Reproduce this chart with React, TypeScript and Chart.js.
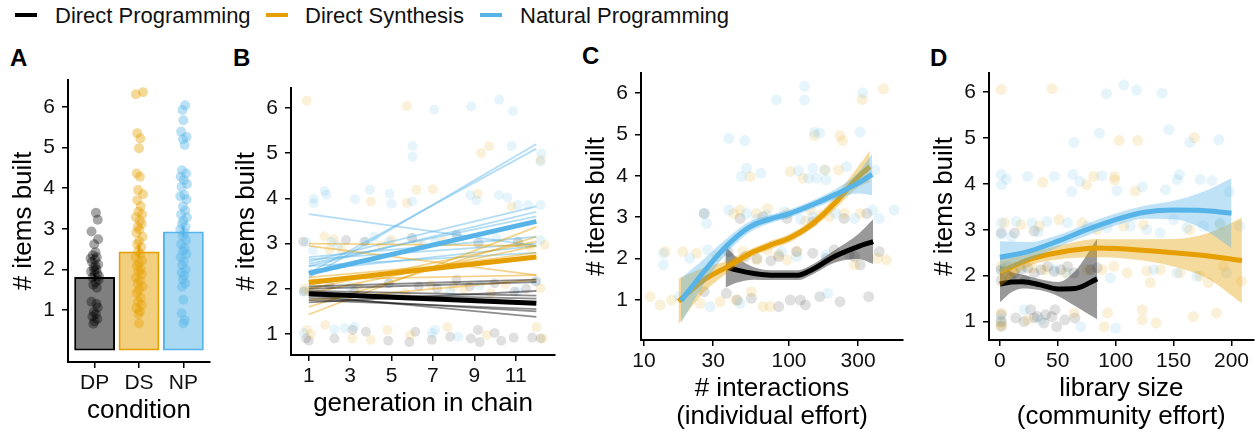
import React, { useEffect, useRef } from 'react';
import { Chart, registerables } from 'chart.js';

Chart.register(...registerables);

const FONT = '"Liberation Sans", Arial, Helvetica, sans-serif';
const TICK_COLOR = '#111111';
const BLACK = '#000000';
const ORANGE = '#E69F00';
const BLUE = '#56B4E9';

function rgba(hex: string, a: number) {
  const n = parseInt(hex.slice(1), 16);
  return `rgba(${(n >> 16) & 255},${(n >> 8) & 255},${n & 255},${a})`;
}

type Pt = [number, number];

// ---------------- legend / labels ----------------
const conditionNames = ['Direct Programming', 'Direct Synthesis', 'Natural Programming'];
const conditionCodes = ['DP', 'DS', 'NP'];
const conditionColors = [BLACK, ORANGE, BLUE];
const yTicks = [1, 2, 3, 4, 5, 6];
const Y_TITLE = '# items built';

// ---------------- panel A ----------------
const barMeans = [1.81, 2.44, 2.93];
const barLow = [1.71, 2.3, 2.81];
const barHigh = [1.91, 2.6, 3.06];
const aPointsDP: Pt[] = [[1.03,3.39],[1.07,3.22],[0.93,2.93],[1.08,2.74],[0.99,2.62],[1.02,2.42],[0.96,2.35],[1.05,2.30],[1.01,2.24],[0.94,2.18],[1.08,2.12],[0.98,2.05],[1.04,2.00],[0.92,1.95],[1.06,1.90],[1.00,1.86],[0.95,1.80],[1.09,1.74],[1.02,1.68],[0.97,1.62],[1.05,1.55],[0.93,1.20],[1.04,1.15],[1.07,1.06],[0.98,0.95],[1.03,0.90],[0.95,0.84],[1.06,0.78],[1.00,0.72],[0.97,0.66],[1.02,2.08],[0.99,1.97],[0.91,2.27],[1.10,1.83]];
const aPointsDS: Pt[] = [[1.93,6.31],[2.09,6.36],[1.96,5.35],[2.03,5.22],[2.0,4.98],[1.95,4.36],[2.02,4.28],[1.98,3.95],[2.09,3.85],[1.96,3.70],[2.04,3.55],[1.99,3.42],[2.07,3.35],[1.93,3.28],[2.02,3.20],[2.06,3.12],[1.97,3.05],[2.01,2.98],[1.94,2.90],[2.08,2.80],[2.0,2.70],[1.96,2.62],[2.05,2.55],[1.98,2.45],[2.03,2.38],[1.92,2.30],[2.07,2.22],[2.0,2.15],[1.95,2.08],[2.04,2.0],[1.99,1.95],[2.06,1.88],[1.93,1.80],[2.02,1.72],[1.97,1.65],[2.08,1.58],[2.0,1.50],[1.95,1.42],[2.04,1.30],[1.98,1.20],[2.06,1.12],[1.94,1.05],[2.02,0.97],[1.99,0.90],[2.0,0.67]];
const aPointsNP: Pt[] = [[3.04,6.04],[2.98,5.92],[3.0,5.67],[2.95,5.39],[3.07,5.26],[2.99,5.20],[3.03,5.06],[2.97,4.44],[3.06,4.36],[2.94,4.28],[3.01,4.20],[3.08,4.10],[2.96,4.03],[3.02,3.83],[2.93,3.80],[3.07,3.72],[2.99,3.55],[3.04,3.45],[2.95,3.35],[3.08,3.28],[3.0,3.20],[2.97,3.12],[3.05,3.05],[2.93,2.98],[3.02,2.90],[2.98,2.82],[3.06,2.72],[2.95,2.62],[3.03,2.52],[2.99,2.45],[3.07,2.38],[2.94,2.30],[3.01,2.20],[2.97,2.10],[3.05,2.00],[2.96,1.92],[3.02,1.85],[2.99,1.75],[3.04,1.65],[2.97,1.57],[3.0,1.25],[2.96,0.92],[3.03,0.75],[3.0,0.67]];

// ---------------- panel B ----------------
const bGenerationTicks = [1, 3, 5, 7, 9, 11];
const bLineEnds = [1, 12];
const bMeanDP = [1.89, 1.68];
const bMeanDS = [2.14, 2.70];
const bMeanNP = [2.34, 3.49];
const bChainsDP: Pt[] = [[2.05,2.2],[2.0,2.15],[1.85,1.38],[1.8,1.5],[1.75,1.55],[1.9,1.78],[1.95,1.85],[1.7,1.95]];
const bChainsDS: Pt[] = [[1.43,3.37],[1.6,3.15],[3.0,2.95],[2.95,2.3],[2.2,2.3],[2.1,2.8],[2.0,3.05],[1.75,2.2],[1.9,2.95],[2.25,2.7]];
const bChainsNP: Pt[] = [[3.65,2.95],[2.25,5.2],[2.35,5.1],[2.6,3.82],[2.5,3.7],[2.55,3.6],[2.7,3.15],[2.65,3.0],[2.5,2.8],[2.4,2.95]];
const bPointsDP: Pt[] = [[0.73,3.04],[2.8,3.08],[3.68,3.04],[5.99,3.12],[8.14,3.19],[9.18,3.01],[11.1,3.04],[0.76,1.94],[2.0,2.09],[4.87,2.12],[6.31,2.05],[8.14,2.2],[8.78,2.05],[9.98,2.12],[10.94,1.94],[11.97,2.16],[0.87,0.9],[2.24,0.9],[3.12,1.09],[3.76,1.05],[4.84,0.85],[5.86,0.82],[6.15,1.05],[6.95,0.87],[7.83,0.94],[8.83,0.9],[9.18,1.09],[9.26,0.82],[9.98,1.02],[10.3,0.85],[10.9,0.92],[11.8,0.92],[12.2,0.9],[1.0,0.85],[3.2,1.95],[7.2,2.0],[11.5,2.0]];
const bPointsDS: Pt[] = [[0.9,6.16],[5.74,6.04],[9.33,5.0],[9.72,5.15],[12.2,4.85],[6.2,4.19],[7.0,4.2],[4.0,3.93],[5.74,3.9],[9.17,4.1],[10.8,3.82],[1.75,3.16],[2.0,2.86],[2.6,2.86],[5.0,3.08],[6.3,3.0],[11.7,2.93],[12.4,2.97],[0.8,2.0],[1.35,2.05],[3.4,2.05],[5.66,1.9],[6.9,2.09],[8.0,2.05],[9.8,1.9],[12.2,2.01],[0.9,1.09],[1.8,1.2],[3.1,0.9],[4.0,0.87],[4.8,1.09],[5.9,0.98],[7.7,1.15],[9.6,0.98],[12.0,1.15],[12.3,0.9],[1.0,1.95],[2.2,3.1],[4.5,2.95],[7.5,3.05],[8.5,2.0],[10.5,2.1],[11.2,3.0],[1.1,1.0]];
const bPointsNP: Pt[] = [[7.06,5.96],[8.85,6.03],[10.2,6.18],[10.87,5.93],[6.02,5.15],[6.02,4.92],[10.8,5.16],[12.24,4.99],[12.2,4.81],[1.24,3.99],[1.24,3.89],[1.77,4.16],[1.85,4.08],[3.23,3.98],[3.95,4.19],[4.9,4.1],[5.0,3.88],[6.0,3.93],[8.8,4.07],[9.1,3.95],[10.2,4.07],[10.6,4.02],[11.1,3.85],[11.6,3.85],[12.2,3.85],[0.87,3.04],[2.1,3.04],[3.76,3.04],[4.16,3.15],[4.87,3.04],[5.99,3.12],[7.1,3.04],[8.14,3.2],[9.26,3.01],[10.06,3.12],[11.1,3.04],[12.2,3.08],[1.2,2.85],[2.4,2.95],[6.5,2.95],[0.76,1.94],[4.87,2.12],[7.83,1.94],[9.26,2.08],[11.1,1.94],[12.0,2.16],[3.0,2.05],[0.76,1.02],[2.24,1.1],[2.73,1.13],[3.2,1.16],[7.1,1.09],[8.22,0.94],[6.95,1.02]];

// ---------------- panel C ----------------
const cInteractionTicks = [10, 30, 100, 300];
const cFitNPx = [18, 25, 37, 54, 75, 100, 145, 210, 300, 375];
const cFitNPy = [0.98, 1.62, 2.3, 2.77, 2.96, 3.08, 3.3, 3.55, 3.82, 4.03];
const cFitNPlo = [0.43, 1.30, 2.12, 2.64, 2.86, 2.98, 3.20, 3.42, 3.57, 3.53];
const cFitNPhi = [1.53, 1.94, 2.48, 2.90, 3.06, 3.18, 3.40, 3.68, 4.07, 4.53];
const cFitDSx = [17.3, 25.8, 37.5, 54.4, 75, 100, 142, 206, 300, 361];
const cFitDSy = [0.97, 1.48, 1.8, 2.13, 2.33, 2.49, 2.81, 3.33, 3.97, 4.22];
const cFitDSlo = [0.42, 1.18, 1.65, 2.03, 2.23, 2.39, 2.71, 3.18, 3.72, 3.84];
const cFitDShi = [1.52, 1.78, 1.95, 2.23, 2.43, 2.59, 2.91, 3.48, 4.22, 4.60];
const cFitDPx = [36.5, 44, 57.4, 75, 115, 142, 206, 300, 381];
const cFitDPy = [1.8, 1.72, 1.64, 1.6, 1.6, 1.72, 2.05, 2.29, 2.41];
const cFitDPlo = [1.30, 1.42, 1.49, 1.48, 1.48, 1.60, 1.90, 1.99, 1.87];
const cFitDPhi = [2.30, 2.02, 1.79, 1.72, 1.72, 1.84, 2.20, 2.59, 2.95];
const cPointsNP: Pt[] = [[128,6.16],[128,5.83],[82,5.83],[323,6.0],[38.5,4.9],[49.7,4.85],[310,5.05],[150,5.05],[163,5.03],[51,4.18],[47,3.98],[64,4.06],[116,4.12],[146,4.18],[177,4.14],[250,4.22],[392,4.14],[136,3.94],[155,3.94],[180,3.9],[26,3.09],[27,2.85],[38.5,3.17],[51,3.09],[93,3.13],[146,3.01],[210,3.09],[283,2.97],[378,3.17],[420,2.97],[531,3.17],[13.6,2.13],[13.6,1.85],[20.7,2.01],[27.5,2.21],[38.5,2.01],[89,2.17],[113,2.05],[180,2.09],[17.5,1.08],[28.5,0.84],[46,0.92],[185,1.16],[70,3.05],[120,2.95],[60,2.95]];
const cPointsDS: Pt[] = [[449,6.1],[320,5.84],[150,4.97],[225,4.97],[234,4.85],[102,4.1],[125,3.94],[54,3.98],[177,4.14],[220,4.14],[41.5,3.09],[46,3.17],[59.8,3.09],[71,3.21],[97,3.09],[140,3.17],[190,3.01],[240,3.09],[310,3.09],[14,2.17],[18.5,2.17],[23,2.13],[32,2.05],[48,2.17],[60,1.97],[71,2.21],[97,1.97],[113,2.17],[205,2.05],[283,1.85],[408,2.01],[470,1.97],[11,1.08],[12.9,0.88],[15.5,1.0],[24.3,0.92],[33.5,0.96],[43,1.0],[55,1.2],[66,0.84],[74,0.84],[85,2.1],[130,2.9],[165,3.05]];
const cPointsDP: Pt[] = [[26,3.09],[46,2.97],[66,3.01],[97,2.97],[146,2.89],[240,2.97],[345,3.09],[38,2.17],[50,2.05],[85,2.05],[113,2.17],[146,2.13],[205,2.21],[283,2.05],[310,1.85],[420,2.17],[26,1.2],[37,1.16],[44,1.0],[55,1.04],[85,0.84],[102,1.0],[120,1.0],[130,0.88],[163,1.08],[225,0.96],[355,1.08],[60,2.0],[75,1.95],[180,2.0],[260,2.1]];

// ---------------- panel D ----------------
const dLibraryTicks = [0, 50, 100, 150, 200];
const dFitNPx = [0, 25, 50, 75, 100, 125, 150, 175, 200];
const dFitNPy = [2.4, 2.53, 2.75, 3.0, 3.22, 3.38, 3.43, 3.42, 3.36];
const dFitNPlo = [2.05, 2.33, 2.62, 2.87, 3.09, 3.24, 3.23, 3.02, 2.60];
const dFitNPhi = [2.75, 2.73, 2.88, 3.13, 3.35, 3.52, 3.63, 3.82, 4.12];
const dFitDSx = [0, 25, 50, 84, 100, 150, 180, 209];
const dFitDSy = [2.08, 2.35, 2.5, 2.6, 2.59, 2.5, 2.43, 2.33];
const dFitDSlo = [1.76, 2.20, 2.35, 2.40, 2.39, 2.20, 1.93, 1.40];
const dFitDShi = [2.40, 2.50, 2.65, 2.80, 2.79, 2.80, 2.93, 3.26];
const dFitDPx = [0, 10, 20, 35, 50, 65, 84];
const dFitDPy = [1.82, 1.86, 1.87, 1.8, 1.71, 1.72, 1.93];
const dFitDPlo = [1.42, 1.64, 1.72, 1.68, 1.56, 1.34, 1.05];
const dFitDPhi = [2.22, 2.08, 2.02, 1.92, 1.86, 2.10, 2.81];
const dPointsNP: Pt[] = [[92,5.96],[107,6.15],[118,6.04],[140,5.97],[86,5.1],[64,4.9],[146,5.18],[164,4.9],[189,4.96],[1.2,4.2],[1.2,3.98],[5.5,4.1],[24,4.16],[47,4.16],[63,4.2],[69,4.05],[88,4.17],[62,3.83],[101,3.85],[123,3.93],[143,3.87],[153,4.09],[155,4.2],[173,4.09],[183,4.07],[198,3.83],[1.2,3.15],[14,3.18],[27.8,3.15],[40.6,3.18],[58.4,3.15],[75.5,3.08],[92.7,3.04],[112.7,3.08],[127,3.0],[138.5,2.93],[150,3.22],[161.4,3.04],[175.7,3.08],[190,3.15],[207,3.08],[1.2,2.9],[10,2.85],[33,2.95],[1.2,2.13],[18.3,2.17],[47,2.13],[58.4,2.06],[95.5,1.95],[132.8,2.13],[152.8,2.06],[170,1.99],[195.7,2.06],[21,1.26],[35.5,1.04],[69.8,0.89],[99.8,0.86],[1.0,1.05]];
const dPointsDS: Pt[] = [[1.1,6.05],[45,6.07],[103,4.94],[119,4.94],[168,5.0],[37,4.03],[81,4.16],[99,4.16],[99,4.08],[75,3.98],[117,3.84],[4,3.15],[18.3,3.11],[34,3.08],[51,3.22],[71,3.15],[84,3.0],[107,3.08],[124,3.11],[164,3.0],[190,3.11],[1.2,2.2],[9.8,2.13],[27.8,2.17],[39.2,2.13],[56.4,2.06],[75.5,2.13],[88.4,2.13],[98.4,2.2],[109.9,2.06],[127,2.1],[138.5,2.13],[155.6,2.06],[172.8,1.99],[192.9,2.2],[208.6,1.88],[130,1.85],[180,1.85],[1.2,1.19],[1.2,0.97],[24,1.04],[64,1.19],[93,1.19],[123,1.26],[123,1.04],[135,0.97],[167,1.11],[187,1.19],[90,0.89],[1.0,0.9]];
const dPointsDP: Pt[] = [[1.2,2.93],[12.6,2.93],[29.7,2.97],[1.2,2.13],[6.9,2.2],[12.6,2.06],[18.3,2.13],[24,2.17],[29.7,2.06],[35.5,2.13],[41.2,2.2],[47,2.09],[52.6,2.13],[58.4,2.2],[64,2.06],[78.4,2.13],[84,2.17],[1.2,1.15],[1.2,1.0],[1.2,0.9],[13.7,1.08],[20.9,1.0],[26.6,1.26],[32.3,1.11],[38,0.97],[44.9,1.11],[47.6,1.26],[49,0.89],[56.1,1.04],[64.7,1.08],[39.5,1.15],[29.7,1.08],[1.2,1.9],[9,1.95],[22,1.9]];

// ---------------- helpers ----------------
const xy = (pts: Pt[]) => pts.map(([x, y]) => ({ x, y }));
const zipXY = (xs: number[], ys: number[]) => xs.map((x, i) => ({ x, y: ys[i] }));

function scatterSet(pts: Pt[], color: string, alpha: number, radius: number) {
  return {
    type: 'scatter',
    data: xy(pts),
    backgroundColor: rgba(color, alpha),
    borderWidth: 0,
    pointRadius: radius,
    pointHoverRadius: radius,
  };
}

function lineSet(data: { x: number; y: number }[], color: string, width: number, smooth: boolean) {
  return {
    type: 'line',
    data,
    borderColor: color,
    borderWidth: width,
    pointRadius: 0,
    fill: false,
    tension: 0,
    cubicInterpolationMode: smooth ? 'monotone' : 'default',
    borderCapStyle: 'butt',
  };
}

function bandSets(xs: number[], lo: number[], hi: number[], color: string, alpha: number) {
  return [
    {
      type: 'line',
      data: zipXY(xs, hi),
      borderWidth: 0,
      borderColor: 'rgba(0,0,0,0)',
      pointRadius: 0,
      backgroundColor: rgba(color, alpha),
      fill: '+1',
      cubicInterpolationMode: 'monotone',
    },
    {
      type: 'line',
      data: zipXY(xs, lo),
      borderWidth: 0,
      borderColor: 'rgba(0,0,0,0)',
      pointRadius: 0,
      fill: false,
      cubicInterpolationMode: 'monotone',
    },
  ];
}

function yAxisOpts(min: number, max: number, width: number, titlePad: number) {
  return {
    type: 'linear',
    position: 'left',
    min,
    max,
    bounds: 'data',
    afterBuildTicks: (s: any) => { s.ticks = yTicks.map((v) => ({ value: v })); },
    afterFit: (s: any) => { s.width = width; },
    grid: { drawOnChartArea: false, drawTicks: true, tickLength: 6, color: '#000', lineWidth: 1.5 },
    border: { display: true, color: '#000', width: 2 },
    ticks: { color: TICK_COLOR, font: { family: FONT, size: 21 }, padding: 7, callback: (v: any) => String(v) },
    title: {
      display: true,
      text: Y_TITLE,
      color: '#000',
      font: { family: FONT, size: 26, lineHeight: 1.2 },
      padding: { top: titlePad, bottom: 0 },
    },
  };
}

function xAxisOpts(o: {
  type: string; min: number; max: number; ticks: number[]; label: (v: number) => string;
  height: number; title: string | string[]; titlePad: number; lineHeight: number;
}) {
  return {
    type: o.type,
    position: 'bottom',
    min: o.min,
    max: o.max,
    bounds: 'data',
    offset: false,
    afterBuildTicks: (s: any) => { s.ticks = o.ticks.map((v) => ({ value: v })); },
    afterFit: (s: any) => { s.height = o.height; },
    grid: { offset: false, drawOnChartArea: false, drawTicks: true, tickLength: 6, color: '#000', lineWidth: 1.5 },
    border: { display: true, color: '#000', width: 2 },
    ticks: {
      color: TICK_COLOR, font: { family: FONT, size: 21 }, padding: 3,
      maxRotation: 0, minRotation: 0, autoSkip: false,
      callback: (v: any) => o.label(Number(v)),
    },
    title: {
      display: true,
      text: o.title,
      color: '#000',
      font: { family: FONT, size: 26, lineHeight: o.lineHeight },
      padding: { top: 0, bottom: o.titlePad },
    },
  };
}

function baseOptions(padTop: number, padRight: number, scales: any) {
  return {
    responsive: false,
    maintainAspectRatio: false,
    animation: false,
    devicePixelRatio: 1,
    events: [],
    layout: { padding: { top: padTop, right: padRight, bottom: 0, left: 0 } },
    plugins: { legend: { display: false }, tooltip: { enabled: false }, title: { display: false } },
    scales,
  };
}

// ---------------- chart configs ----------------
function makeA() {
  const pointSets = [
    scatterSet(aPointsNP, BLUE, 0.4, 5),
    scatterSet(aPointsDS, ORANGE, 0.4, 5),
    scatterSet(aPointsDP, BLACK, 0.35, 5),
  ];
  const errorSets = conditionCodes.map((_, i) =>
    lineSet([{ x: i + 1, y: barLow[i] }, { x: i + 1, y: barHigh[i] }], conditionColors[i], 2, false)
  );
  const bars = {
    type: 'bar',
    data: barMeans.map((v, i) => ({ x: i + 1, y: v })),
    backgroundColor: conditionColors.map((c) => rgba(c, 0.5)),
    borderColor: conditionColors,
    borderWidth: 2,
    borderSkipped: false,
    barPercentage: 0.92,
    categoryPercentage: 1,
  };
  return {
    type: 'bar',
    data: { datasets: [...pointSets, ...errorSets, bars] },
    options: baseOptions(40, 10, {
      x: xAxisOpts({
        type: 'linear', min: 0.4, max: 3.6, ticks: [1, 2, 3],
        label: (v) => conditionCodes[Math.round(v) - 1] ?? '',
        height: 72, title: 'condition', titlePad: 7.4, lineHeight: 1.2,
      }),
      y: yAxisOpts(-0.28, 6.66, 68, 8.4),
    }),
  };
}

function makeB() {
  const thick = [
    lineSet(zipXY(bLineEnds, bMeanDP), BLACK, 5, false),
    lineSet(zipXY(bLineEnds, bMeanDS), ORANGE, 5, false),
    lineSet(zipXY(bLineEnds, bMeanNP), BLUE, 5, false),
  ];
  const thin = [
    ...bChainsDP.map((c) => lineSet(zipXY(bLineEnds, c), rgba(BLACK, 0.45), 1.8, false)),
    ...bChainsDS.map((c) => lineSet(zipXY(bLineEnds, c), rgba(ORANGE, 0.45), 1.8, false)),
    ...bChainsNP.map((c) => lineSet(zipXY(bLineEnds, c), rgba(BLUE, 0.45), 1.8, false)),
  ];
  const pts = [
    scatterSet(bPointsNP, BLUE, 0.15, 5),
    scatterSet(bPointsDS, ORANGE, 0.15, 5),
    scatterSet(bPointsDP, BLACK, 0.12, 5),
  ];
  return {
    type: 'scatter',
    data: { datasets: [...thick, ...thin, ...pts] },
    options: baseOptions(48, 2, {
      x: xAxisOpts({
        type: 'linear', min: 0.14, max: 12.9, ticks: bGenerationTicks,
        label: (v) => String(v), height: 79, title: 'generation in chain', titlePad: 14.4, lineHeight: 1.2,
      }),
      y: yAxisOpts(0.535, 6.44, 71, 11.4),
    }),
  };
}

function makeSmoothSets(
  fits: { x: number[]; y: number[]; lo: number[]; hi: number[]; color: string }[]
) {
  const out: any[] = [];
  for (const f of fits) {
    out.push(lineSet(zipXY(f.x, f.y), f.color, 5, true));
    out.push(...bandSets(f.x, f.lo, f.hi, f.color, f.color === BLACK ? 0.4 : 0.38));
  }
  return out;
}

function makeC() {
  const smooth = makeSmoothSets([
    { x: cFitNPx, y: cFitNPy, lo: cFitNPlo, hi: cFitNPhi, color: BLUE },
    { x: cFitDSx, y: cFitDSy, lo: cFitDSlo, hi: cFitDShi, color: ORANGE },
    { x: cFitDPx, y: cFitDPy, lo: cFitDPlo, hi: cFitDPhi, color: BLACK },
  ]);
  const pts = [
    scatterSet(cPointsNP, BLUE, 0.15, 5.5),
    scatterSet(cPointsDS, ORANGE, 0.15, 5.5),
    scatterSet(cPointsDP, BLACK, 0.12, 5.5),
  ];
  return {
    type: 'scatter',
    data: { datasets: [...smooth, ...pts] },
    options: baseOptions(33, 7, {
      x: xAxisOpts({
        type: 'logarithmic', min: 9.53, max: 612, ticks: cInteractionTicks,
        label: (v) => String(v), height: 94, title: ['# interactions', '(individual effort)'],
        titlePad: 3, lineHeight: 28 / 26,
      }),
      y: yAxisOpts(0.034, 6.48, 71, 11.4),
    }),
  };
}

function makeD() {
  const smooth = makeSmoothSets([
    { x: dFitNPx, y: dFitNPy, lo: dFitNPlo, hi: dFitNPhi, color: BLUE },
    { x: dFitDSx, y: dFitDSy, lo: dFitDSlo, hi: dFitDShi, color: ORANGE },
    { x: dFitDPx, y: dFitDPy, lo: dFitDPlo, hi: dFitDPhi, color: BLACK },
  ]);
  const pts = [
    scatterSet(dPointsNP, BLUE, 0.15, 5.5),
    scatterSet(dPointsDS, ORANGE, 0.15, 5.5),
    scatterSet(dPointsDP, BLACK, 0.12, 5.5),
  ];
  return {
    type: 'scatter',
    data: { datasets: [...smooth, ...pts] },
    options: baseOptions(33, 4, {
      x: xAxisOpts({
        type: 'linear', min: -9.4, max: 219, ticks: dLibraryTicks,
        label: (v) => String(v), height: 94, title: ['library size', '(community effort)'],
        titlePad: 3, lineHeight: 28 / 26,
      }),
      y: yAxisOpts(0.6, 6.41, 79, 19.4),
    }),
  };
}

// ---------------- components ----------------
function Panel(props: { make: () => any; left: number; top: number; width: number; height: number }) {
  const ref = useRef<HTMLCanvasElement>(null);
  useEffect(() => {
    if (!ref.current) return;
    const chart = new Chart(ref.current, props.make());
    return () => chart.destroy();
  }, []);
  return (
    <canvas
      ref={ref}
      width={props.width}
      height={props.height}
      style={{ position: 'absolute', left: props.left, top: props.top, width: props.width, height: props.height }}
    />
  );
}

const legendKeyX = [15, 266, 480];
const legendTextX = [55, 305, 520];
const panelLetters = ['A', 'B', 'C', 'D'];
const letterX = [10, 233, 582, 930];
const letterCenterY = [58, 58, 56, 58];

export default function App() {
  return (
    <div
      style={{
        position: 'fixed', left: 0, top: 0, width: 1259, height: 434,
        background: '#fff', overflow: 'hidden', fontFamily: FONT,
      }}
    >
      {conditionNames.map((name, i) => (
        <React.Fragment key={name}>
          <div
            style={{
              position: 'absolute', left: legendKeyX[i], top: 13.3, width: 22, height: 4,
              background: conditionColors[i],
            }}
          />
          <div
            style={{
              position: 'absolute', left: legendTextX[i], top: 5.2, fontSize: 22, lineHeight: '22px',
              color: '#111', whiteSpace: 'nowrap',
            }}
          >
            {name}
          </div>
        </React.Fragment>
      ))}
      {panelLetters.map((l, i) => (
        <div
          key={l}
          style={{
            position: 'absolute', left: letterX[i], top: letterCenterY[i] - 11.7, fontSize: 24,
            lineHeight: '24px', fontWeight: 'bold', color: '#000',
          }}
        >
          {l}
        </div>
      ))}
      <Panel make={makeA} left={0} top={40} width={220} height={394} />
      <Panel make={makeB} left={220} top={40} width={340} height={394} />
      <Panel make={makeC} left={570} top={40} width={340} height={394} />
      <Panel make={makeD} left={910} top={40} width={349} height={394} />
    </div>
  );
}
